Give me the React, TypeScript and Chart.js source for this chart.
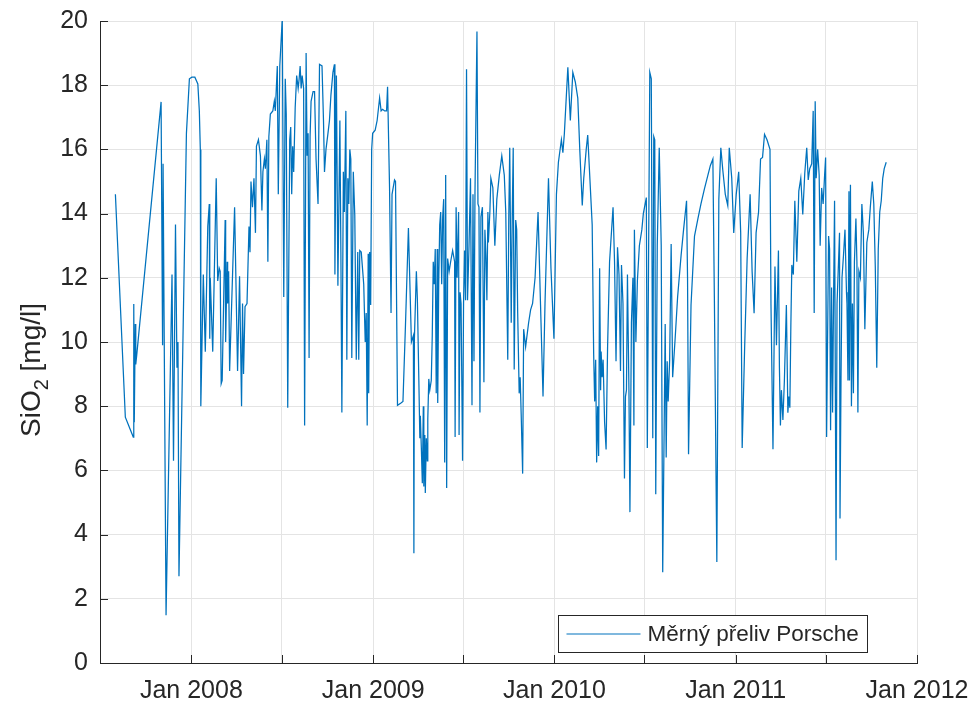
import React, { useEffect, useRef } from "react";
import { Chart, registerables } from "chart.js";

Chart.register(...registerables);

// ---- data ----
const SAMPLE_DATES: string[] = [
  "2007-08-01","2007-08-21","2007-09-06","2007-09-07","2007-09-08","2007-09-10","2007-09-11","2007-09-13",
  "2007-11-01","2007-11-04","2007-11-05","2007-11-07","2007-11-11","2007-11-23","2007-11-26","2007-11-30",
  "2007-12-03","2007-12-05","2007-12-07","2007-12-22","2007-12-28","2008-01-02","2008-01-08","2008-01-14",
  "2008-01-17","2008-01-19","2008-01-20","2008-01-25","2008-01-29","2008-02-03","2008-02-06","2008-02-07",
  "2008-02-08","2008-02-13","2008-02-20","2008-02-23","2008-02-26","2008-02-28","2008-03-01","2008-03-03",
  "2008-03-09","2008-03-10","2008-03-13","2008-03-14","2008-03-16","2008-03-18","2008-03-28","2008-04-03",
  "2008-04-07","2008-04-11","2008-04-13","2008-04-15","2008-04-18","2008-04-22","2008-04-26","2008-04-28",
  "2008-04-30","2008-05-03","2008-05-06","2008-05-09","2008-05-11","2008-05-15","2008-05-19","2008-05-22",
  "2008-05-24","2008-05-27","2008-05-29","2008-06-01","2008-06-03","2008-06-05","2008-06-08","2008-06-13",
  "2008-06-16","2008-06-18","2008-06-22","2008-06-24","2008-06-27","2008-07-02","2008-07-05","2008-07-08",
  "2008-07-10","2008-07-13","2008-07-17","2008-07-19","2008-07-21","2008-07-23","2008-07-25","2008-07-28",
  "2008-07-31","2008-08-03","2008-08-05","2008-08-07","2008-08-09","2008-08-11","2008-08-14","2008-08-16",
  "2008-08-19","2008-08-21","2008-08-23","2008-08-25","2008-08-27","2008-08-29","2008-09-02","2008-09-05",
  "2008-09-08","2008-09-12","2008-09-15","2008-09-20","2008-09-23","2008-09-25","2008-09-28","2008-10-02",
  "2008-10-05","2008-10-08","2008-10-12","2008-10-15","2008-10-16","2008-10-19","2008-10-22","2008-10-26",
  "2008-10-28","2008-10-30","2008-11-02","2008-11-04","2008-11-07","2008-11-09","2008-11-11","2008-11-13",
  "2008-11-15","2008-11-17","2008-11-19","2008-11-22","2008-11-25","2008-11-28","2008-12-01","2008-12-03",
  "2008-12-05","2008-12-08","2008-12-11","2008-12-13","2008-12-16","2008-12-18","2008-12-20","2008-12-22",
  "2008-12-23","2008-12-25","2008-12-27","2008-12-29","2008-12-31","2009-01-05","2009-01-09","2009-01-14",
  "2009-01-17","2009-01-20","2009-01-24","2009-01-28","2009-01-30","2009-02-03","2009-02-06","2009-02-08",
  "2009-02-13","2009-02-15","2009-02-19","2009-02-26","2009-03-02","2009-03-07","2009-03-13","2009-03-19",
  "2009-03-23","2009-03-24","2009-03-25","2009-03-29","2009-03-31","2009-04-03","2009-04-05","2009-04-06",
  "2009-04-08","2009-04-10","2009-04-12","2009-04-13","2009-04-15","2009-04-16","2009-04-18","2009-04-20",
  "2009-04-21","2009-04-23","2009-04-25","2009-04-28","2009-04-30","2009-05-02","2009-05-04","2009-05-06",
  "2009-05-08","2009-05-10","2009-05-11","2009-05-13","2009-05-15","2009-05-17","2009-05-19","2009-05-21",
  "2009-05-23","2009-05-25","2009-05-27","2009-05-29","2009-05-31","2009-06-03","2009-06-06","2009-06-10",
  "2009-06-14","2009-06-15","2009-06-17","2009-06-19","2009-06-22","2009-06-23","2009-06-25","2009-06-27",
  "2009-06-30","2009-07-02","2009-07-04","2009-07-06","2009-07-08","2009-07-10","2009-07-13","2009-07-16",
  "2009-07-19","2009-07-21","2009-07-23","2009-07-25","2009-07-29","2009-07-31","2009-08-02","2009-08-04",
  "2009-08-06","2009-08-09","2009-08-12","2009-08-14","2009-08-16","2009-08-18","2009-08-20","2009-08-21",
  "2009-08-24","2009-08-26","2009-08-30","2009-09-03","2009-09-07","2009-09-12","2009-09-17","2009-09-22",
  "2009-09-25","2009-09-29","2009-10-01","2009-10-03","2009-10-06","2009-10-08","2009-10-10","2009-10-12",
  "2009-10-15","2009-10-17","2009-10-19","2009-10-22","2009-10-24","2009-10-26","2009-10-29","2009-10-31",
  "2009-11-04","2009-11-06","2009-11-10","2009-11-14","2009-11-18","2009-11-23","2009-11-29","2009-12-04",
  "2009-12-09","2009-12-13","2009-12-20","2009-12-25","2009-12-31","2010-01-05","2010-01-09","2010-01-15",
  "2010-01-18","2010-01-21","2010-01-28","2010-02-02","2010-02-07","2010-02-12","2010-02-17","2010-02-21",
  "2010-02-26","2010-03-01","2010-03-06","2010-03-09","2010-03-13","2010-03-18","2010-03-21","2010-03-23",
  "2010-03-25","2010-03-27","2010-03-29","2010-03-31","2010-04-02","2010-04-04","2010-04-05","2010-04-07",
  "2010-04-09","2010-04-12","2010-04-15","2010-04-18","2010-04-22","2010-04-29","2010-05-02","2010-05-05",
  "2010-05-08","2010-05-11","2010-05-14","2010-05-16","2010-05-19","2010-05-22","2010-05-24","2010-05-26",
  "2010-05-28","2010-05-31","2010-06-02","2010-06-05","2010-06-08","2010-06-10","2010-06-11","2010-06-14",
  "2010-06-17","2010-06-21","2010-06-26","2010-06-29","2010-07-05","2010-07-07","2010-07-12","2010-07-15",
  "2010-07-18","2010-07-20","2010-07-22","2010-07-24","2010-07-27","2010-07-29","2010-07-31","2010-08-04",
  "2010-08-07","2010-08-12","2010-08-14","2010-08-16","2010-08-18","2010-08-21","2010-08-24","2010-08-27",
  "2010-09-01","2010-09-06","2010-09-13","2010-09-18","2010-09-24","2010-09-26","2010-09-28","2010-10-03",
  "2010-10-10","2010-10-17","2010-10-23","2010-10-30","2010-11-06","2010-11-11","2010-11-16","2010-11-19",
  "2010-11-24","2010-11-28","2010-12-02","2010-12-06","2010-12-11","2010-12-16","2010-12-19","2010-12-24",
  "2010-12-28","2011-01-02","2011-01-07","2011-01-11","2011-01-14","2011-01-19","2011-01-24","2011-01-30",
  "2011-02-03","2011-02-07","2011-02-11","2011-02-16","2011-02-20","2011-02-24","2011-02-28","2011-03-05",
  "2011-03-11","2011-03-13","2011-03-17","2011-03-21","2011-03-24","2011-03-28","2011-03-30","2011-04-01",
  "2011-04-03","2011-04-06","2011-04-09","2011-04-13","2011-04-16","2011-04-18","2011-04-20","2011-04-22",
  "2011-04-24","2011-04-27","2011-04-30","2011-05-04","2011-05-08","2011-05-12","2011-05-16","2011-05-20",
  "2011-05-24","2011-05-27","2011-05-30","2011-06-03","2011-06-06","2011-06-08","2011-06-10","2011-06-12",
  "2011-06-15","2011-06-18","2011-06-20","2011-06-23","2011-06-26","2011-06-29","2011-07-01","2011-07-03",
  "2011-07-07","2011-07-09","2011-07-11","2011-07-13","2011-07-15","2011-07-17","2011-07-19","2011-07-21",
  "2011-07-22","2011-07-24","2011-07-27","2011-07-29","2011-07-30","2011-08-01","2011-08-03","2011-08-06",
  "2011-08-09","2011-08-12","2011-08-13","2011-08-15","2011-08-17","2011-08-18","2011-08-20","2011-08-22",
  "2011-08-24","2011-08-26","2011-08-28","2011-08-31","2011-09-02","2011-09-04","2011-09-06","2011-09-09",
  "2011-09-12","2011-09-15","2011-09-18","2011-09-22","2011-09-26","2011-09-29","2011-10-03","2011-10-06",
  "2011-10-09","2011-10-12","2011-10-15","2011-10-18","2011-10-21","2011-10-24","2011-10-27","2011-10-31"
];

const SIO2_VALUES: number[] = [
  14.6,7.66,7.04,11.18,7.5,10.56,9.3,9.6,
  17.48,9.9,15.55,10.8,1.49,12.1,6.3,13.66,
  9.2,10.0,2.7,16.5,18.2,18.25,18.25,18.04,
  17.2,16.0,8.0,12.1,9.7,13.6,14.3,10.1,
  12.0,9.7,15.1,11.9,12.3,12.2,8.7,8.8,
  13.8,10.0,12.5,11.2,12.2,9.1,14.2,9.1,
  12.05,8.0,11.2,9.0,11.1,11.2,13.6,12.8,
  15.0,14.2,15.1,13.4,16.1,16.3,15.8,14.1,
  15.3,15.7,15.4,16.3,12.5,16.4,17.1,17.2,
  17.5,17.2,18.6,14.6,18.6,20.07,11.4,18.2,
  17.1,7.95,16.3,16.7,14.6,16.1,15.3,17.3,
  18.3,17.9,18.2,18.6,17.9,18.3,17.9,7.4,
  19.0,15.8,16.5,9.5,16.4,17.5,17.8,17.8,
  15.7,14.3,18.65,18.6,16.9,15.3,16.0,16.5,
  16.9,17.7,18.4,18.65,12.1,18.3,11.75,16.9,
  12.8,7.8,15.3,14.05,17.2,9.45,15.1,14.3,
  16.0,15.7,9.5,15.3,13.95,9.45,12.8,9.45,
  12.85,12.8,12.2,11.8,10.0,10.9,7.4,12.75,
  8.4,12.8,11.15,16.0,16.5,16.6,16.9,17.6,
  17.2,17.25,17.2,17.2,17.95,14.8,10.9,14.6,
  15.05,15.0,8.03,8.1,8.15,10.5,13.55,10.0,
  10.2,3.42,10.1,12.2,11.35,8.8,7.0,7.7,
  6.7,5.6,8.0,5.5,7.1,5.3,7.0,6.3,
  7.6,8.85,8.5,8.8,10.2,12.5,11.8,12.9,
  8.4,12.9,8.1,11.8,13.65,14.05,11.8,13.9,
  14.45,6.25,15.2,5.45,12.6,12.2,12.5,12.85,
  12.5,7.04,14.2,12.0,14.05,7.1,11.55,11.2,
  6.3,11.2,12.85,11.3,18.5,11.3,13.0,15.1,
  8.03,14.6,9.4,14.6,19.67,14.3,14.2,7.8,
  13.9,14.2,8.75,13.5,12.7,11.3,14.05,13.1,
  14.05,15.1,14.8,13.0,14.45,15.2,15.8,15.2,
  14.05,9.45,13.8,16.05,10.6,13.9,16.05,9.14,
  13.8,13.5,10.9,8.4,8.9,7.77,5.9,10.4,
  9.85,10.1,10.6,11.0,11.2,12.0,14.05,11.15,
  8.3,11.2,15.1,12.3,10.1,14.6,15.6,16.3,
  15.9,16.5,18.56,16.9,18.4,18.1,17.6,16.0,
  14.25,15.1,16.0,16.45,15.2,13.65,9.6,8.15,
  9.45,6.25,8.0,6.45,12.3,8.5,9.7,8.9,
  9.45,7.5,6.65,9.85,12.5,14.2,12.5,9.4,
  12.95,12.1,9.1,12.4,11.2,5.75,8.3,8.5,
  12.1,8.5,4.7,10.6,12.0,7.4,13.5,10.0,
  11.9,13.0,13.5,14.0,14.5,6.7,18.4,18.2,
  7.0,16.4,16.3,5.26,13.0,14.5,16.05,13.0,
  2.83,10.56,6.4,9.4,8.15,9.45,13.05,8.9,
  10.1,11.4,12.7,13.5,14.4,12.0,6.5,11.15,
  13.3,13.85,14.3,14.77,15.2,15.5,15.7,11.4,
  3.15,14.45,16.05,15.35,14.6,14.25,16.05,15.1,
  13.4,14.6,15.3,13.4,6.7,9.85,12.6,14.6,
  12.2,10.9,13.4,14.05,15.7,15.75,16.47,16.3,
  16.0,11.15,6.66,12.35,9.9,12.85,9.2,7.4,
  8.5,7.57,8.8,11.15,7.8,8.3,7.95,10.5,
  12.4,12.1,14.4,12.5,14.7,15.1,13.97,15.25,
  16.05,15.05,15.4,15.55,17.2,10.9,17.5,15.1,
  16.0,15.2,13.0,14.8,14.3,15.2,15.75,7.04,
  13.3,12.9,7.25,11.7,7.8,11.3,14.4,7.2,
  3.2,11.2,12.5,13.4,4.5,8.85,12.0,12.7,
  13.5,11.55,11.2,8.8,14.7,8.8,14.9,8.0,
  11.2,8.4,12.5,13.85,12.5,7.8,12.2,12.0,
  14.3,13.4,10.4,13.1,13.5,14.2,15.0,14.3,
  12.35,9.2,12.9,14.05,14.4,15.1,15.4,15.6
];

const X_TICK_DATES: string[] = [
  "2007-07-01","2008-01-01","2008-07-01","2009-01-01","2009-07-01",
  "2010-01-01","2010-07-01","2011-01-01","2011-07-01","2012-01-01"
];
const X_MIN_DATE = "2007-07-01";
const X_MAX_DATE = "2012-01-01";
const MONTH_NAMES = ["Jan","Feb","Mar","Apr","May","Jun","Jul","Aug","Sep","Oct","Nov","Dec"];
const Y_MIN = 0;
const Y_MAX = 20;
const Y_STEP = 2;
const SERIES_LABEL = "Měrný přeliv Porsche";
const Y_TITLE_PARTS = ["SiO", "2", " [mg/l]"];

// ---- style ----
const FAMILY = '"Liberation Sans", Arial, Helvetica, sans-serif';
const TEXT_COLOR = "#262626";
const GRID_COLOR = "#e4e4e4";
const LINE_COLOR = "#0072BD";
const TICK_FONT = 25;
const LEGEND_FONT = 22.5;
const TITLE_FONT = 28;

function dayNumber(s: string): number {
  const [y, m, d] = s.split("-").map(Number);
  return Date.UTC(y, m - 1, d) / 86400000;
}

const inwardTicksPlugin = {
  id: "inwardTicks",
  afterDraw(chart: any) {
    const { ctx, chartArea } = chart;
    const xs = chart.scales.x;
    const ys = chart.scales.y;
    const len = 8;
    ctx.save();
    ctx.strokeStyle = TEXT_COLOR;
    ctx.lineWidth = 1;
    ctx.beginPath();
    xs.ticks.forEach((t: any) => {
      const px = Math.round(xs.getPixelForValue(t.value)) + 0.5;
      ctx.moveTo(px, chartArea.bottom);
      ctx.lineTo(px, chartArea.bottom - len);
    });
    ys.ticks.forEach((t: any) => {
      const py = Math.round(ys.getPixelForValue(t.value)) + 0.5;
      ctx.moveTo(chartArea.left, py);
      ctx.lineTo(chartArea.left + len, py);
    });
    ctx.stroke();
    ctx.restore();
  },
};

const yTitlePlugin = {
  id: "yTitle",
  afterDraw(chart: any) {
    const { ctx } = chart;
    const cy = 370;
    const cx = 30;
    const mainFont = `${TITLE_FONT}px ${FAMILY}`;
    const subFont = `${Math.round(TITLE_FONT * 0.72)}px ${FAMILY}`;
    ctx.save();
    ctx.translate(cx, cy);
    ctx.rotate(-Math.PI / 2);
    ctx.fillStyle = TEXT_COLOR;
    ctx.textBaseline = "alphabetic";
    ctx.textAlign = "left";
    ctx.font = mainFont;
    const w1 = ctx.measureText(Y_TITLE_PARTS[0]).width;
    const w3 = ctx.measureText(Y_TITLE_PARTS[2]).width;
    ctx.font = subFont;
    const w2 = ctx.measureText(Y_TITLE_PARTS[1]).width;
    const total = w1 + w2 + w3;
    let x = -total / 2;
    const base = TITLE_FONT * 0.36;
    ctx.font = mainFont;
    ctx.fillText(Y_TITLE_PARTS[0], x, base);
    x += w1;
    ctx.font = subFont;
    ctx.fillText(Y_TITLE_PARTS[1], x, base + TITLE_FONT * 0.28);
    x += w2;
    ctx.font = mainFont;
    ctx.fillText(Y_TITLE_PARTS[2], x, base);
    ctx.restore();
  },
};

const legendPlugin = {
  id: "boxLegend",
  afterDraw(chart: any) {
    const { ctx, chartArea } = chart;
    ctx.save();
    ctx.font = `${LEGEND_FONT}px ${FAMILY}`;
    const tw = ctx.measureText(SERIES_LABEL).width;
    const padL = 8, lineLen = 74, gap = 7, padR = 9, h = 37;
    const w = padL + lineLen + gap + tw + padR;
    const right = chartArea.right - 50;
    const bottom = chartArea.bottom - 11;
    const x1 = Math.round(right - w) + 0.5;
    const y1 = Math.round(bottom - h) + 0.5;
    ctx.fillStyle = "#ffffff";
    ctx.fillRect(x1, y1, Math.round(w), h);
    ctx.strokeStyle = TEXT_COLOR;
    ctx.lineWidth = 1;
    ctx.strokeRect(x1, y1, Math.round(w), h);
    const my = y1 + h / 2;
    ctx.strokeStyle = LINE_COLOR;
    ctx.lineWidth = 1.2;
    ctx.beginPath();
    ctx.moveTo(x1 + padL, my);
    ctx.lineTo(x1 + padL + lineLen, my);
    ctx.stroke();
    ctx.fillStyle = TEXT_COLOR;
    ctx.textBaseline = "middle";
    ctx.textAlign = "left";
    ctx.fillText(SERIES_LABEL, x1 + padL + lineLen + gap, my + 1);
    ctx.restore();
  },
};

export default function App() {
  const canvasRef = useRef<HTMLCanvasElement | null>(null);

  useEffect(() => {
    document.body.style.margin = "0";
    const canvas = canvasRef.current;
    if (!canvas) return;
    const points = SAMPLE_DATES.map((d, i) => ({ x: dayNumber(d), y: SIO2_VALUES[i] }));
    const tickValues = X_TICK_DATES.map(dayNumber);

    const chart = new Chart(canvas, {
      type: "line",
      data: {
        datasets: [
          {
            label: SERIES_LABEL,
            data: points,
            borderColor: LINE_COLOR,
            borderWidth: 1.25,
            pointRadius: 0,
            tension: 0,
            fill: false,
          },
        ],
      },
      options: {
        animation: false,
        responsive: false,
        maintainAspectRatio: false,
        devicePixelRatio: 1,
        layout: { padding: { top: 21, right: 54, left: 0, bottom: 0 } },
        plugins: {
          legend: { display: false },
          tooltip: { enabled: false },
        },
        scales: {
          x: {
            type: "linear",
            min: dayNumber(X_MIN_DATE),
            max: dayNumber(X_MAX_DATE),
            afterBuildTicks: (scale: any) => {
              scale.ticks = tickValues.map((v) => ({ value: v }));
            },
            afterFit: (scale: any) => {
              scale.height = 39;
              scale.paddingLeft = 0;
              scale.paddingRight = 0;
            },
            grid: { color: GRID_COLOR, lineWidth: 1, drawTicks: false },
            border: { display: true, color: TEXT_COLOR, width: 1 },
            ticks: {
              autoSkip: false,
              maxRotation: 0,
              minRotation: 0,
              padding: 13,
              color: TEXT_COLOR,
              font: { family: FAMILY, size: TICK_FONT },
              callback: (value: any) => {
                const dt = new Date(Number(value) * 86400000);
                return dt.getUTCMonth() === 0
                  ? `${MONTH_NAMES[0]} ${dt.getUTCFullYear()}`
                  : "";
              },
            },
          },
          y: {
            type: "linear",
            min: Y_MIN,
            max: Y_MAX,
            afterFit: (scale: any) => {
              scale.width = 100;
              scale.paddingTop = 0;
              scale.paddingBottom = 0;
            },
            grid: { color: GRID_COLOR, lineWidth: 1, drawTicks: false },
            border: { display: true, color: TEXT_COLOR, width: 1 },
            ticks: {
              stepSize: Y_STEP,
              padding: 12,
              color: TEXT_COLOR,
              font: { family: FAMILY, size: TICK_FONT },
            },
          },
        },
      },
      plugins: [inwardTicksPlugin, yTitlePlugin, legendPlugin],
    });

    return () => chart.destroy();
  }, []);

  return (
    <div style={{ width: 971, height: 702, background: "#ffffff" }}>
      <canvas ref={canvasRef} width={971} height={702} />
    </div>
  );
}
